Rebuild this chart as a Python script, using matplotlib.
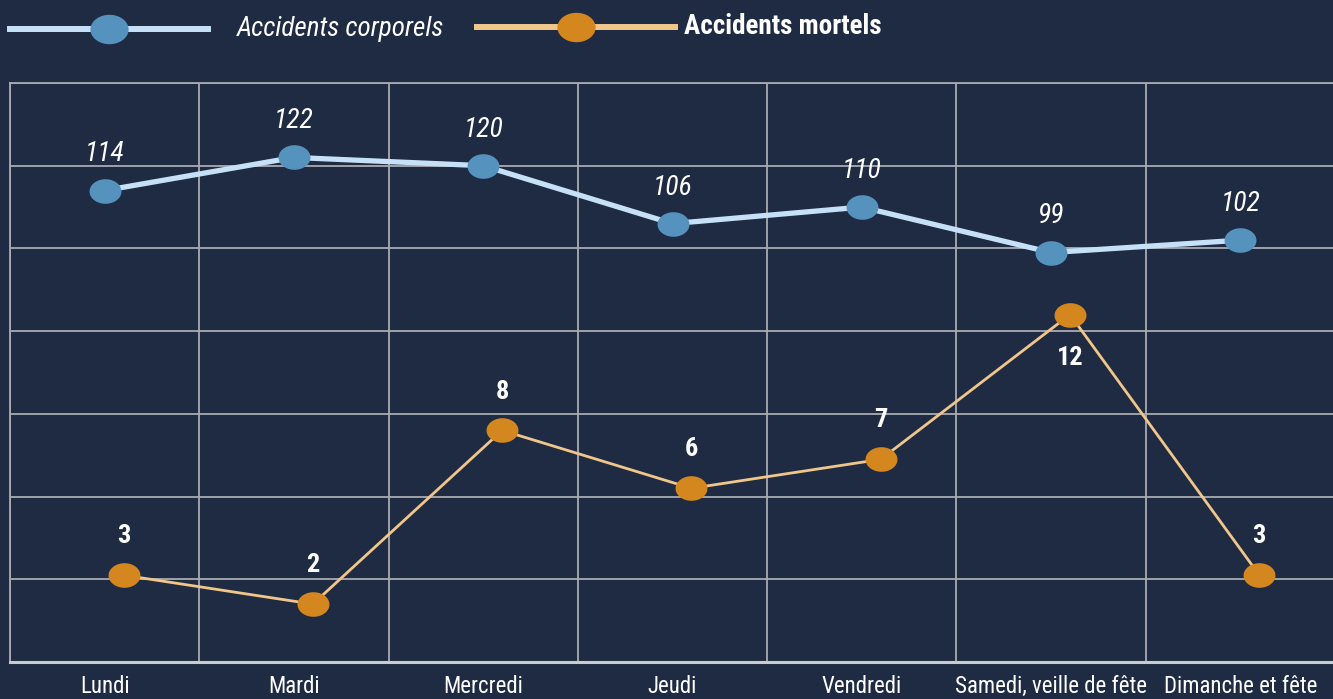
import numpy as np
import matplotlib
matplotlib.use("Agg")
import matplotlib.pyplot as plt
from matplotlib.path import Path
from matplotlib.lines import Line2D

jours = ["Lundi", "Mardi", "Mercredi", "Jeudi", "Vendredi",
         "Samedi, veille de fête", "Dimanche et fête"]
corporels = [114, 122, 120, 106, 110, 99, 102]
mortels = [3, 2, 8, 6, 7, 12, 3]

BG = "#1e2b42"
GRID = "#a9acb0"
BLUE_LINE = "#c6e0f7"
BLUE_MK = "#5592be"
ORANGE_LINE = "#f0c68a"
ORANGE_MK = "#d4861f"
FONT = ["Roboto Condensed", "Liberation Sans Narrow", "Liberation Sans", "DejaVu Sans"]

plt.rcParams["font.family"] = FONT

W, H = 1333, 699

# ellipse marker
t = np.linspace(0, 2 * np.pi, 80)
ellipse = Path(np.column_stack([np.cos(t), 0.77 * np.sin(t)]), closed=True)

fig = plt.figure(figsize=(W / 100, H / 100), dpi=100, facecolor=BG)
ax = fig.add_axes([10 / W, 37 / H, 1325 / W, 579 / H])
ax.set_facecolor(BG)
ax2 = ax.twinx()

x = np.arange(len(jours))

ax.plot(x, corporels, color=BLUE_LINE, lw=3.8, marker=ellipse, ms=23,
        mfc=BLUE_MK, mec="none", zorder=3, solid_capstyle="round")
ax2.plot(x + 0.1, mortels, color=ORANGE_LINE, lw=2, marker=ellipse, ms=23,
         mfc=ORANGE_MK, mec="none", zorder=3)

ax.set_xlim(-0.5, 6.5)
ax.set_ylim(0, 140)
ax2.set_ylim(0, 20)

for xi, v in zip(x, corporels):
    ax.annotate(str(v), (xi, v), xytext=(0, 26), textcoords="offset points",
                ha="center", va="center", color="white", fontsize=20,
                style="italic")
for xi, v in zip(x, mortels):
    dy = -31 if v == max(mortels) else 28
    ax2.annotate(str(v), (xi + 0.1, v), xytext=(0, dy), textcoords="offset points",
                 ha="center", va="center", color="white", fontsize=19,
                 weight="bold")

# grid
ax.set_yticks(np.arange(0, 141, 20))
ax.set_xticks(np.arange(-0.5, 6.6, 1), minor=True)
ax.set_xticks(x)
ax.set_xticklabels(jours, color="white", fontsize=16.5)
ax.tick_params(axis="x", which="both", length=0, pad=9.5)
ax.tick_params(axis="y", length=0, labelleft=False)
ax2.tick_params(axis="y", length=0, labelright=False)
ax.grid(True, which="major", axis="y", color=GRID, lw=1.3)
ax.grid(True, which="minor", axis="x", color=GRID, lw=1.3)
ax.set_axisbelow(True)
for a in (ax, ax2):
    for s in ["left", "top", "bottom", "right"]:
        a.spines[s].set_visible(False)
for s in ["left", "top", "bottom"]:
    ax.spines[s].set_visible(True)
for s in ["left", "top"]:
    ax.spines[s].set_color(GRID)
    ax.spines[s].set_linewidth(1.3)
ax.spines["bottom"].set_color("#c8cbcf")
ax.spines["bottom"].set_linewidth(2.2)

# legend, drawn by hand at the top
def legend_item(x0, x1, y, line_c, mk_c, label, gap, **txt_kw):
    yf = 1 - y / H
    fig.add_artist(Line2D([x0 / W, x1 / W], [yf, yf], transform=fig.transFigure,
                          color=line_c, lw=4.3))
    fig.add_artist(Line2D([(x0 + x1) / 2 / W], [yf], transform=fig.transFigure,
                          marker=ellipse, ms=27.5, mfc=mk_c, mec="none",
                          ls="none"))
    fig.text((x1 + gap) / W, yf, label, color="white", fontsize=19.5,
             va="center", ha="left", **txt_kw)

legend_item(10, 208, 29, BLUE_LINE, BLUE_MK, "Accidents corporels", 29,
            style="italic")
legend_item(477, 675, 27, ORANGE_LINE, ORANGE_MK, "Accidents mortels", 9,
            weight="bold")

fig.savefig("out.png", dpi=100, facecolor=BG)
